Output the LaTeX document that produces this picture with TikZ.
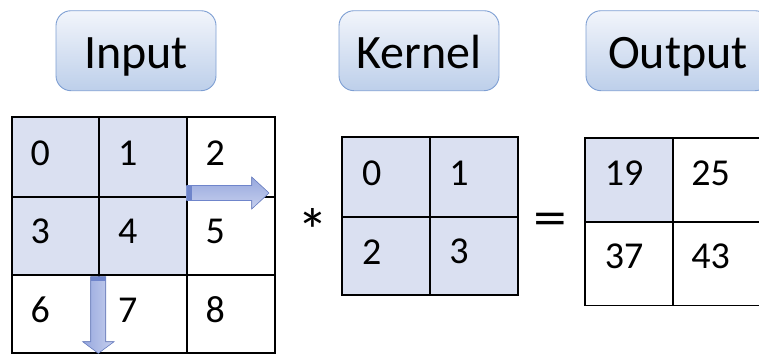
\documentclass[tikz,border=0pt]{standalone}
\usepackage{fontspec}
\setmainfont{Carlito}
\definecolor{boxtop}{HTML}{F2F5FB}
\definecolor{boxbot}{HTML}{BDCFEA}
\definecolor{boxborder}{HTML}{7E9FD3}
\definecolor{cellblue}{HTML}{DAE0F1}
\definecolor{arrowdark}{HTML}{6F85CB}
\definecolor{arrowmid}{HTML}{97A8DE}
\definecolor{arrowlight}{HTML}{C7D0EE}
\begin{document}
\begin{tikzpicture}[x=1pt,y=-1pt]
\tikzset{
  title/.style={draw=boxborder, line width=0.9pt, rounded corners=15pt,
    top color=boxtop, bottom color=boxbot, minimum height=80pt, inner sep=0pt,
    font=\fontsize{48}{56}\selectfont, text height=35.2pt, text depth=0pt},
  gridline/.style={line width=1.8pt, draw=black},
  num/.style={inner sep=0pt, font=\fontsize{38}{44}\selectfont},
  arrowbody/.style={draw=arrowdark, line width=0.6pt},
}
\useasboundingbox (0,0) rectangle (759,354);
\clip (0,0) rectangle (759,354);

% titles
\node[title, minimum width=160pt] (tin) at (136,50.7) {Input};
\node[title, minimum width=160pt] (tker) at (419,50.7) {Kernel};
\node[title, minimum width=184pt] (tout) at (678,50.7) {Output};

% input grid
\fill[cellblue] (11.7,117.3) rectangle (186.7,275);
\draw[gridline] (11.7,117.3) rectangle (275,353);
\draw[gridline] (99.3,117.3) -- (99.3,353) (186.7,117.3) -- (186.7,353)
  (11.7,196.7) -- (275,196.7) (11.7,275) -- (275,275);
\node[num] (i0) at (40.2,153.3) {0};
\node[num] (i1) at (127.8,153.3) {1};
\node[num] (i2) at (215.2,153.3) {2};
\node[num] (i3) at (40.2,231.7) {3};
\node[num] (i4) at (127.8,231.7) {4};
\node[num] (i5) at (215.2,231.7) {5};
\node[num] (i6) at (40.2,310) {6};
\node[num] (i7) at (127.8,310) {7};
\node[num] (i8) at (215.2,310) {8};

% arrows
\filldraw[arrowbody, top color=arrowmid, bottom color=arrowlight]
  (186.7,185.5) -- (251.7,185.5) -- (251.7,177) -- (269,193) -- (251.7,209)
  -- (251.7,200.5) -- (186.7,200.5) -- cycle;
\fill[arrowdark] (186.7,185.5) rectangle (192,200.5);
\filldraw[arrowbody, left color=arrowmid, right color=arrowlight]
  (90.7,276.7) -- (105.7,276.7) -- (105.7,341.7) -- (114,341.7) -- (98.3,353.3)
  -- (82.7,341.7) -- (90.7,341.7) -- cycle;
\fill[arrowdark] (90.7,276.7) rectangle (105.7,281);

% operator symbols
\node[inner sep=0pt, font=\fontsize{62}{70}\selectfont] (star) at (312.7,230) {*};
\node[inner sep=0pt, font=\fontsize{52}{60}\selectfont] (eq) at (550,224) {\scalebox{1.3}[1]{=}};

% kernel grid
\fill[cellblue] (341.7,137.3) rectangle (517.7,295);
\draw[gridline] (341.7,137.3) rectangle (517.7,295);
\draw[gridline] (430,137.3) -- (430,295) (341.7,216.7) -- (517.7,216.7);
\node[num] (k0) at (371.7,173) {0};
\node[num] (k1) at (459,173) {1};
\node[num] (k2) at (371.7,251.7) {2};
\node[num] (k3) at (459,251.7) {3};

% output grid
\fill[cellblue] (585,138.3) rectangle (672.7,221.7);
\draw[gridline] (585,138.3) rectangle (760.4,305.5);
\draw[gridline] (672.7,138.3) -- (672.7,305.5) (585,221.7) -- (760.4,221.7);
\node[num] (o0) at (624,173) {19};
\node[num] (o1) at (710.5,173) {25};
\node[num] (o2) at (624,256.7) {37};
\node[num] (o3) at (710.5,256.7) {43};
\end{tikzpicture}
\end{document}
